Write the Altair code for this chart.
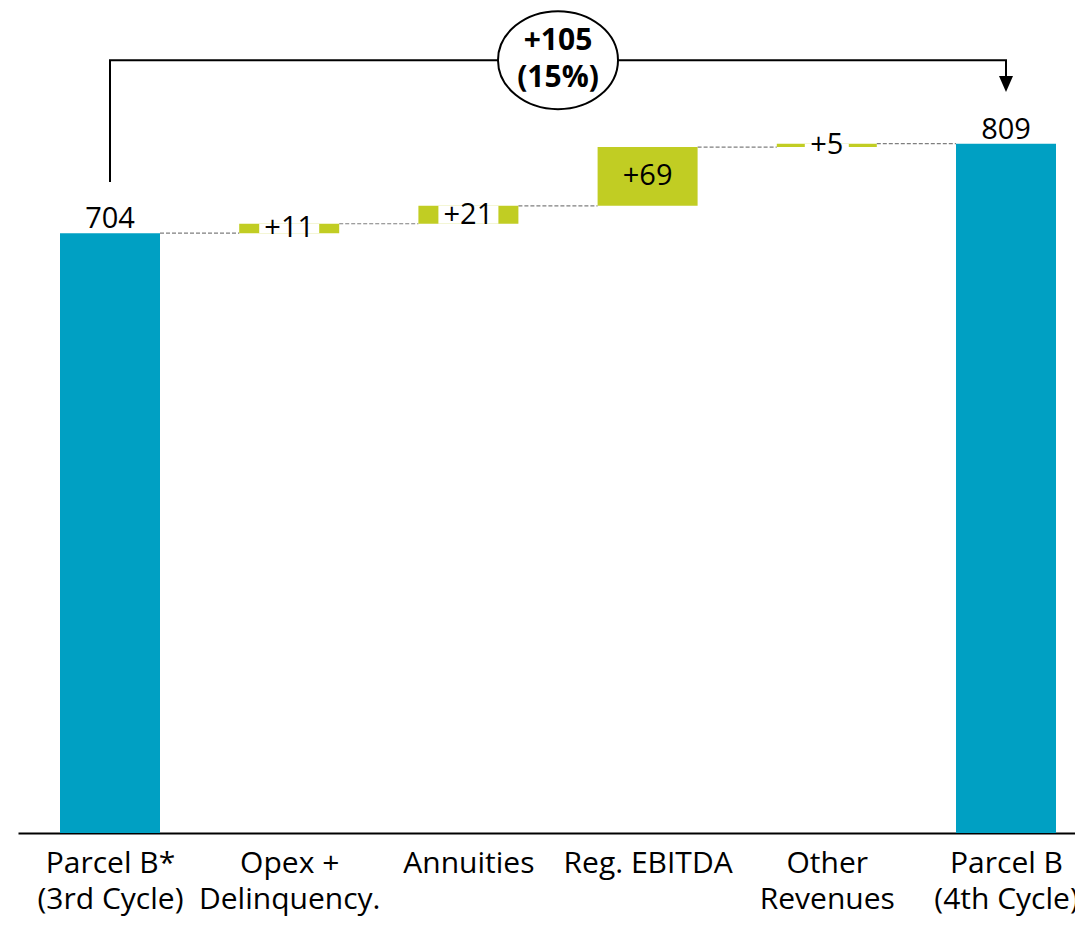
import altair as alt
import pandas as pd

# ---------------- data ----------------
label_lines = [
    ["Parcel B*", "(3rd Cycle)"],
    ["Opex +", "Delinquency."],
    ["Annuities"],
    ["Reg. EBITDA"],
    ["Other", "Revenues"],
    ["Parcel B", "(4th Cycle)"],
]
bar_start = [0, 704, 715, 736, 805, 0]
bar_end = [704, 715, 736, 805, 809, 809]
kinds = ["total", "delta", "delta", "delta", "delta", "total"]
value_labels = ["704", "+11", "+21", "+69", "+5", "809"]

change_lines = ["+105", "(15%)"]
bracket_from = 764      # where the left bracket leg starts
bracket_level = 907     # level of the horizontal bracket line
arrow_level = 879       # centre of the arrow head

# ---------------- style ----------------
FONT = "Open Sans"
BLUE = "#00A0C3"
GREEN = "#C1CD23"
PLOT_W = 1057
PLOT_H = 818
STEP_PX = 179.2          # distance between category centres, in pixels
FIRST_PX = 92            # first category centre from the plot's left edge
X_DOMAIN = [-FIRST_PX / STEP_PX, (PLOT_W - FIRST_PX) / STEP_PX]
Y_DOMAIN = [0, 960]
BAR_PX = 100
half_bar = BAR_PX / 2 / STEP_PX

n = len(label_lines)
df = pd.DataFrame({
    "idx": list(range(n)),
    "start": bar_start,
    "end": bar_end,
    "kind": kinds,
    "label": value_labels,
})
df["mid"] = (df["start"] + df["end"]) / 2
df["height"] = df["end"] - df["start"]

conn = pd.DataFrame({
    "x1": [i + half_bar for i in range(n - 1)],
    "x2": [i + 1 - half_bar for i in range(n - 1)],
    "level": bar_end[:-1],
})

bracket = pd.DataFrame({
    "x": [0, 0, n - 1, n - 1],
    "y": [bracket_from, bracket_level, bracket_level, arrow_level],
    "o": [0, 1, 2, 3],
})
arrow = pd.DataFrame({"x": [n - 1], "y": [arrow_level]})
ellipse = pd.DataFrame({"x": [(n - 1) / 2], "y": [bracket_level], "t": ["\n".join(change_lines)]})

xs = alt.Scale(domain=X_DOMAIN, nice=False, zero=False, padding=0)
ys = alt.Scale(domain=Y_DOMAIN, nice=False, zero=False, padding=0)

label_expr = "[" + ",".join(
    "[" + ",".join("'" + s + "'" for s in lines) + "]" for lines in label_lines
) + "][datum.value]"

x_axis = alt.Axis(
    values=list(range(n)), labelExpr=label_expr, ticks=False, tickSize=0, grid=False,
    domainColor="black", domainWidth=2, labelFont=FONT, labelFontSize=30,
    labelColor="black", labelPadding=15, labelLineHeight=36, title=None,
    labelOverlap=False, labelBound=False, labelLimit=0,
)

base = alt.Chart(df)

connectors = alt.Chart(conn).mark_rule(
    color="#7F7F7F", strokeWidth=1.2, strokeDash=[4, 2]
).encode(
    x=alt.X("x1:Q", scale=xs, axis=x_axis),
    x2="x2:Q",
    y=alt.Y("level:Q", scale=ys, axis=None),
)

bars = base.mark_bar(size=BAR_PX).encode(
    x=alt.X("idx:Q", scale=xs, axis=x_axis),
    y=alt.Y("start:Q", scale=ys, axis=None),
    y2="end:Q",
    color=alt.Color("kind:N", scale=alt.Scale(domain=["total", "delta"], range=[BLUE, GREEN]), legend=None),
)

small = base.transform_filter(
    "datum.kind == 'delta' && datum.height < 30"
).transform_calculate(gap="16*length(datum.label)+12")

gaps = small.mark_bar(color="white").encode(
    x=alt.X("idx:Q", scale=xs, axis=x_axis),
    y=alt.Y("start:Q", scale=ys, axis=None),
    y2="end:Q",
    size=alt.Size("gap:Q", scale=None, legend=None),
)

delta_text = base.transform_filter("datum.kind == 'delta'").mark_text(
    font=FONT, fontSize=29, color="black", baseline="middle", align="center"
).encode(
    x=alt.X("idx:Q", scale=xs, axis=x_axis),
    y=alt.Y("mid:Q", scale=ys, axis=None),
    text="label:N",
)

total_text = base.transform_filter("datum.kind == 'total'").mark_text(
    font=FONT, fontSize=29, color="black", baseline="alphabetic", align="center", dy=-5
).encode(
    x=alt.X("idx:Q", scale=xs, axis=x_axis),
    y=alt.Y("end:Q", scale=ys, axis=None),
    text="label:N",
)

bracket_line = alt.Chart(bracket).mark_line(color="black", strokeWidth=2, strokeJoin="miter").encode(
    x=alt.X("x:Q", scale=xs, axis=x_axis),
    y=alt.Y("y:Q", scale=ys, axis=None),
    order="o:Q",
)

arrow_head = alt.Chart(arrow).mark_point(
    shape="M-0.875,-1 L0.875,-1 L0,1 Z", size=256, filled=True, color="black", opacity=1
).encode(
    x=alt.X("x:Q", scale=xs, axis=x_axis),
    y=alt.Y("y:Q", scale=ys, axis=None),
)

ell = alt.Chart(ellipse).mark_point(
    shape="M-1,0 A1,0.817 0 1,0 1,0 A1,0.817 0 1,0 -1,0 Z",
    size=14400, filled=True, fill="white", stroke="black", strokeWidth=2, opacity=1, fillOpacity=1,
).encode(
    x=alt.X("x:Q", scale=xs, axis=x_axis),
    y=alt.Y("y:Q", scale=ys, axis=None),
)

ell_text = alt.Chart(ellipse).mark_text(
    font=FONT, fontSize=30, fontWeight="bold", color="black", baseline="alphabetic",
    align="center", lineBreak="\n", lineHeight=37, dy=-10,
).encode(
    x=alt.X("x:Q", scale=xs, axis=x_axis),
    y=alt.Y("y:Q", scale=ys, axis=None),
    text="t:N",
)

chart = alt.layer(
    connectors, bars, gaps, delta_text, total_text, bracket_line, arrow_head, ell, ell_text
).properties(
    width=PLOT_W, height=PLOT_H,
    autosize=alt.AutoSizeParams(type="none"),
    padding={"left": 10, "top": 7, "right": 0, "bottom": 85},
).configure_view(stroke=None)

chart.save("out.html", embed_options={"renderer": "svg", "actions": False})
